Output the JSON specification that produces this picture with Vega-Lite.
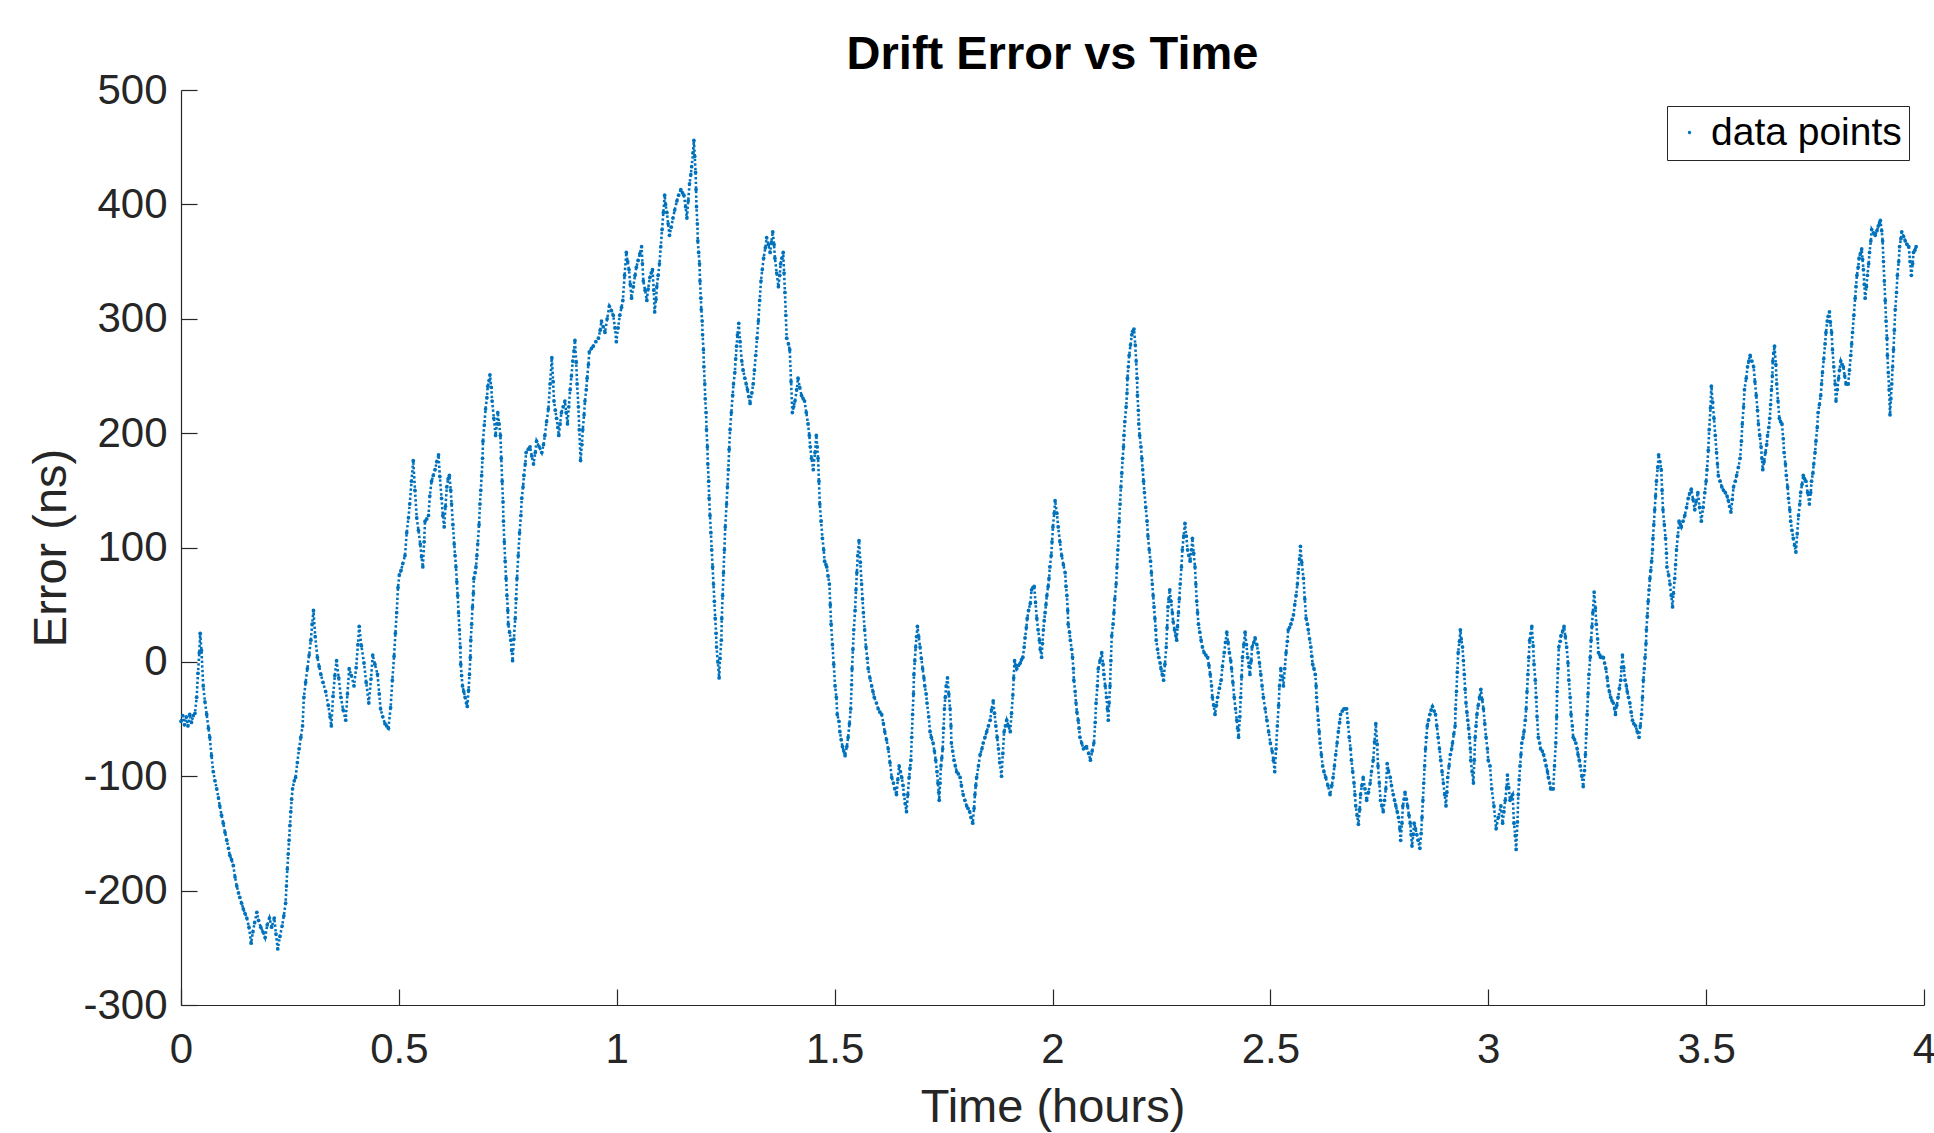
{
"$schema":"https://vega.github.io/schema/vega-lite/v6.json",
"width":1743,"height":915,
"autosize":{"type":"none"},
"padding":{"left":181,"top":90,"right":10,"bottom":128},
"background":"white",
"title":{"text":"Drift Error vs Time","font":"Liberation Sans","fontSize":47,"fontWeight":"bold","color":"black","anchor":"middle","frame":"group","baseline":"alphabetic","offset":-47},
"data":{"values":[
{"t":0,"e":-52},{"t":0.004,"e":-47},{"t":0.008,"e":-55},{"t":0.012,"e":-48},{"t":0.016,"e":-56},{"t":0.02,"e":-46},{"t":0.024,"e":-53},{"t":0.028,"e":-47},{"t":0.032,"e":-45},{"t":0.036,"e":-31},{"t":0.039,"e":-10},{"t":0.042,"e":8},{"t":0.044,"e":25},{"t":0.047,"e":10},{"t":0.051,"e":-21},{"t":0.055,"e":-35},{"t":0.059,"e":-46},{"t":0.063,"e":-58},{"t":0.066,"e":-66},{"t":0.07,"e":-82},{"t":0.074,"e":-96},{"t":0.078,"e":-104},{"t":0.082,"e":-111},{"t":0.086,"e":-119},{"t":0.089,"e":-126},{"t":0.093,"e":-134},{"t":0.097,"e":-141},{"t":0.101,"e":-149},{"t":0.105,"e":-156},{"t":0.109,"e":-163},{"t":0.112,"e":-169},{"t":0.116,"e":-173},{"t":0.12,"e":-178},{"t":0.124,"e":-188},{"t":0.128,"e":-196},{"t":0.132,"e":-202},{"t":0.135,"e":-206},{"t":0.139,"e":-211},{"t":0.143,"e":-216},{"t":0.147,"e":-220},{"t":0.151,"e":-224},{"t":0.156,"e":-232},{"t":0.161,"e":-246},{"t":0.165,"e":-236},{"t":0.169,"e":-228},{"t":0.174,"e":-219},{"t":0.178,"e":-226},{"t":0.183,"e":-232},{"t":0.188,"e":-236},{"t":0.193,"e":-241},{"t":0.198,"e":-230},{"t":0.203,"e":-224},{"t":0.208,"e":-232},{"t":0.214,"e":-224},{"t":0.218,"e":-238},{"t":0.222,"e":-251},{"t":0.227,"e":-240},{"t":0.232,"e":-231},{"t":0.236,"e":-222},{"t":0.24,"e":-211},{"t":0.242,"e":-196},{"t":0.244,"e":-181},{"t":0.246,"e":-168},{"t":0.248,"e":-156},{"t":0.25,"e":-143},{"t":0.252,"e":-131},{"t":0.254,"e":-120},{"t":0.256,"e":-111},{"t":0.26,"e":-104},{"t":0.263,"e":-101},{"t":0.267,"e":-88},{"t":0.271,"e":-76},{"t":0.275,"e":-66},{"t":0.279,"e":-56},{"t":0.282,"e":-31},{"t":0.286,"e":-18},{"t":0.29,"e":-6},{"t":0.294,"e":6},{"t":0.298,"e":19},{"t":0.301,"e":33},{"t":0.304,"e":45},{"t":0.308,"e":22},{"t":0.313,"e":4},{"t":0.317,"e":-4},{"t":0.321,"e":-11},{"t":0.326,"e":-18},{"t":0.332,"e":-26},{"t":0.338,"e":-38},{"t":0.342,"e":-48},{"t":0.345,"e":-56},{"t":0.349,"e":-30},{"t":0.353,"e":-12},{"t":0.357,"e":1},{"t":0.362,"e":-14},{"t":0.367,"e":-31},{"t":0.372,"e":-42},{"t":0.378,"e":-51},{"t":0.382,"e":-28},{"t":0.386,"e":-6},{"t":0.391,"e":-12},{"t":0.397,"e":-21},{"t":0.402,"e":-5},{"t":0.406,"e":15},{"t":0.409,"e":31},{"t":0.414,"e":14},{"t":0.42,"e":-1},{"t":0.425,"e":-18},{"t":0.431,"e":-36},{"t":0.436,"e":-15},{"t":0.44,"e":6},{"t":0.445,"e":-2},{"t":0.451,"e":-11},{"t":0.455,"e":-28},{"t":0.458,"e":-41},{"t":0.463,"e":-48},{"t":0.468,"e":-54},{"t":0.472,"e":-56},{"t":0.476,"e":-58},{"t":0.481,"e":-40},{"t":0.485,"e":-16},
{"t":0.489,"e":5},{"t":0.492,"e":25},{"t":0.495,"e":43},{"t":0.498,"e":65},{"t":0.501,"e":76},{"t":0.505,"e":80},{"t":0.509,"e":86},{"t":0.514,"e":93},{"t":0.518,"e":113},{"t":0.522,"e":126},{"t":0.525,"e":138},{"t":0.529,"e":158},{"t":0.533,"e":176},{"t":0.537,"e":150},{"t":0.541,"e":126},{"t":0.545,"e":115},{"t":0.549,"e":103},{"t":0.552,"e":92},{"t":0.555,"e":83},{"t":0.558,"e":105},{"t":0.56,"e":123},{"t":0.564,"e":125},{"t":0.568,"e":128},{"t":0.571,"e":145},{"t":0.575,"e":158},{"t":0.579,"e":163},{"t":0.583,"e":168},{"t":0.587,"e":175},{"t":0.591,"e":181},{"t":0.594,"e":162},{"t":0.598,"e":143},{"t":0.601,"e":128},{"t":0.604,"e":118},{"t":0.607,"e":136},{"t":0.61,"e":153},{"t":0.613,"e":160},{"t":0.616,"e":163},{"t":0.619,"e":150},{"t":0.621,"e":138},{"t":0.624,"e":120},{"t":0.627,"e":103},{"t":0.629,"e":93},{"t":0.631,"e":83},{"t":0.633,"e":70},{"t":0.635,"e":58},{"t":0.637,"e":43},{"t":0.639,"e":28},{"t":0.641,"e":13},{"t":0.642,"e":-2},{"t":0.644,"e":-12},{"t":0.646,"e":-21},{"t":0.649,"e":-26},{"t":0.652,"e":-31},{"t":0.655,"e":-36},{"t":0.657,"e":-39},{"t":0.66,"e":-25},{"t":0.662,"e":-11},{"t":0.664,"e":4},{"t":0.665,"e":19},{"t":0.667,"e":33},{"t":0.669,"e":48},{"t":0.671,"e":60},{"t":0.672,"e":73},{"t":0.675,"e":78},{"t":0.677,"e":83},{"t":0.679,"e":93},{"t":0.681,"e":103},{"t":0.684,"e":120},{"t":0.686,"e":138},{"t":0.688,"e":150},{"t":0.69,"e":163},{"t":0.692,"e":178},{"t":0.693,"e":193},{"t":0.696,"e":207},{"t":0.699,"e":221},{"t":0.702,"e":231},{"t":0.704,"e":241},{"t":0.707,"e":246},{"t":0.709,"e":251},{"t":0.712,"e":240},{"t":0.714,"e":228},{"t":0.718,"e":213},{"t":0.722,"e":198},{"t":0.725,"e":208},{"t":0.727,"e":218},{"t":0.73,"e":208},{"t":0.733,"e":198},{"t":0.735,"e":178},{"t":0.737,"e":158},{"t":0.739,"e":140},{"t":0.74,"e":123},{"t":0.742,"e":105},{"t":0.744,"e":88},{"t":0.746,"e":73},{"t":0.748,"e":58},{"t":0.75,"e":45},{"t":0.751,"e":33},{"t":0.754,"e":26},{"t":0.757,"e":19},{"t":0.759,"e":10},{"t":0.761,"e":1},{"t":0.764,"e":20},{"t":0.767,"e":38},{"t":0.769,"e":55},{"t":0.771,"e":73},{"t":0.774,"e":93},{"t":0.777,"e":113},{"t":0.78,"e":128},{"t":0.782,"e":143},{"t":0.785,"e":153},{"t":0.787,"e":163},{"t":0.79,"e":173},{"t":0.792,"e":183},{"t":0.797,"e":186},{"t":0.801,"e":188},{"t":0.805,"e":180},{"t":0.809,"e":173},{"t":0.813,"e":183},{"t":0.816,"e":193},{"t":0.822,"e":188},{"t":0.828,"e":183},{"t":0.832,"e":190},{"t":0.835,"e":198},{"t":0.839,"e":210},{"t":0.843,"e":221},{"t":0.847,"e":243},{"t":0.851,"e":266},{"t":0.854,"e":245},{"t":0.856,"e":228},{"t":0.859,"e":220},{"t":0.862,"e":213},{"t":0.865,"e":205},{"t":0.867,"e":198},{"t":0.87,"e":208},{"t":0.873,"e":218},{"t":0.877,"e":223},{"t":0.881,"e":228},{"t":0.884,"e":218},{"t":0.887,"e":208},{"t":0.89,"e":223},{"t":0.893,"e":238},{"t":0.896,"e":250},{"t":0.899,"e":263},{"t":0.902,"e":272},{"t":0.904,"e":281},{"t":0.907,"e":262},{"t":0.909,"e":243},{"t":0.912,"e":223},{"t":0.914,"e":203},{"t":0.917,"e":176},{"t":0.92,"e":190},{"t":0.922,"e":203},{"t":0.925,"e":216},{"t":0.927,"e":228},{"t":0.93,"e":238},{"t":0.932,"e":248},{"t":0.935,"e":260},{"t":0.937,"e":271},{"t":0.942,"e":274},{"t":0.946,"e":276},{"t":0.952,"e":280},{"t":0.958,"e":283},{"t":0.962,"e":290},{"t":0.965,"e":298},{"t":0.969,"e":293},{"t":0.973,"e":288},{"t":0.978,"e":300},{"t":0.983,"e":311},{"t":0.988,"e":307},{"t":0.992,"e":303},{"t":0.996,"e":292},{"t":0.999,"e":280},{"t":1.003,"e":292},{"t":1.007,"e":303},{"t":1.011,"e":310},{"t":1.014,"e":316},{"t":1.018,"e":338},{"t":1.022,"e":358},{"t":1.025,"e":350},{"t":1.028,"e":343},{"t":1.031,"e":330},{"t":1.034,"e":318},{"t":1.038,"e":328},{"t":1.042,"e":338},{"t":1.045,"e":345},{"t":1.049,"e":351},{"t":1.053,"e":357},{"t":1.057,"e":363},{"t":1.059,"e":348},{"t":1.061,"e":333},{"t":1.065,"e":325},{"t":1.069,"e":316},{"t":1.072,"e":326},{"t":1.076,"e":336},{"t":1.079,"e":340},{"t":1.082,"e":343},{"t":1.085,"e":325},{"t":1.087,"e":306},{"t":1.09,"e":317},{"t":1.092,"e":328},{"t":1.095,"e":338},{"t":1.098,"e":348},{"t":1.101,"e":363},{"t":1.104,"e":378},{"t":1.107,"e":393},{"t":1.11,"e":408},{"t":1.112,"e":400},{"t":1.115,"e":393},{"t":1.118,"e":383},{"t":1.121,"e":373},{"t":1.125,"e":380},{"t":1.129,"e":388},{"t":1.133,"e":395},{"t":1.138,"e":403},{"t":1.142,"e":408},{"t":1.147,"e":413},{"t":1.151,"e":410},{"t":1.154,"e":408},{"t":1.158,"e":398},{"t":1.161,"e":388},{"t":1.164,"e":403},{"t":1.167,"e":418},{"t":1.17,"e":426},{"t":1.172,"e":433},{"t":1.175,"e":445},{"t":1.177,"e":456},{"t":1.179,"e":442},{"t":1.181,"e":428},{"t":1.182,"e":413},{"t":1.183,"e":398},{"t":1.185,"e":383},{"t":1.186,"e":368},{"t":1.188,"e":358},{"t":1.19,"e":348},{"t":1.191,"e":333},{"t":1.193,"e":318},{"t":1.194,"e":308},{"t":1.196,"e":298},{"t":1.197,"e":286},{"t":1.199,"e":273},{"t":1.2,"e":258},{"t":1.202,"e":243},{"t":1.203,"e":230},{"t":1.205,"e":218},{"t":1.206,"e":203},{"t":1.208,"e":188},{"t":1.209,"e":173},{"t":1.211,"e":158},{"t":1.212,"e":143},{"t":1.214,"e":128},{"t":1.216,"e":113},{"t":1.218,"e":98},{"t":1.22,"e":83},{"t":1.222,"e":68},{"t":1.224,"e":53},{"t":1.226,"e":38},{"t":1.228,"e":25},{"t":1.229,"e":13},{"t":1.232,"e":0},{"t":1.235,"e":-14},{"t":1.237,"e":3},{"t":1.24,"e":19},{"t":1.241,"e":38},{"t":1.243,"e":58},{"t":1.245,"e":78},{"t":1.247,"e":98},{"t":1.249,"e":118},{"t":1.252,"e":138},{"t":1.254,"e":153},{"t":1.256,"e":168},{"t":1.258,"e":186},{"t":1.26,"e":203},{"t":1.263,"e":218},{"t":1.266,"e":233},{"t":1.268,"e":243},{"t":1.271,"e":253},{"t":1.273,"e":265},{"t":1.275,"e":276},{"t":1.277,"e":286},{"t":1.28,"e":296},{"t":1.283,"e":280},{"t":1.287,"e":263},{"t":1.29,"e":255},{"t":1.294,"e":248},{"t":1.297,"e":243},{"t":1.3,"e":238},{"t":1.303,"e":232},{"t":1.306,"e":226},{"t":1.31,"e":235},{"t":1.313,"e":243},{"t":1.316,"e":255},{"t":1.319,"e":268},{"t":1.322,"e":283},{"t":1.325,"e":298},{"t":1.328,"e":316},{"t":1.331,"e":333},{"t":1.334,"e":343},{"t":1.337,"e":353},{"t":1.341,"e":362},{"t":1.344,"e":371},{"t":1.348,"e":365},{"t":1.352,"e":358},{"t":1.355,"e":367},{"t":1.358,"e":376},{"t":1.361,"e":365},{"t":1.363,"e":353},{"t":1.367,"e":340},{"t":1.371,"e":328},{"t":1.374,"e":338},{"t":1.376,"e":348},{"t":1.379,"e":353},{"t":1.382,"e":358},{"t":1.384,"e":340},{"t":1.386,"e":323},{"t":1.388,"e":303},{"t":1.39,"e":283},{"t":1.394,"e":278},{"t":1.397,"e":273},{"t":1.4,"e":245},{"t":1.403,"e":218},{"t":1.406,"e":223},{"t":1.409,"e":228},{"t":1.413,"e":238},{"t":1.416,"e":248},{"t":1.42,"e":240},{"t":1.424,"e":233},{"t":1.428,"e":230},{"t":1.431,"e":228},{"t":1.435,"e":218},{"t":1.439,"e":208},{"t":1.442,"e":198},{"t":1.444,"e":188},{"t":1.447,"e":178},{"t":1.451,"e":168},{"t":1.455,"e":183},{"t":1.458,"e":198},{"t":1.46,"e":188},{"t":1.462,"e":178},{"t":1.464,"e":158},{"t":1.466,"e":138},{"t":1.469,"e":123},{"t":1.472,"e":108},{"t":1.475,"e":98},{"t":1.477,"e":88},{"t":1.48,"e":85},{"t":1.482,"e":83},{"t":1.485,"e":75},{"t":1.488,"e":68},{"t":1.49,"e":50},{"t":1.492,"e":33},{"t":1.495,"e":15},{"t":1.498,"e":-2},{"t":1.501,"e":-21},{"t":1.504,"e":-31},{"t":1.506,"e":-46},{"t":1.51,"e":-52},{"t":1.512,"e":-61},{"t":1.515,"e":-68},{"t":1.518,"e":-74},{"t":1.521,"e":-78},{"t":1.524,"e":-82},{"t":1.528,"e":-74},{"t":1.531,"e":-66},{"t":1.534,"e":-54},{"t":1.537,"e":-41},{"t":1.539,"e":-20},{"t":1.54,"e":-6},{"t":1.542,"e":11},{"t":1.544,"e":28},{"t":1.547,"e":45},{"t":1.549,"e":63},{"t":1.551,"e":78},{"t":1.553,"e":93},{"t":1.556,"e":106},{"t":1.559,"e":87},{"t":1.562,"e":68},{"t":1.564,"e":55},{"t":1.566,"e":43},{"t":1.569,"e":28},{"t":1.572,"e":13},{"t":1.575,"e":3},{"t":1.577,"e":-6},{"t":1.581,"e":-14},{"t":1.585,"e":-21},{"t":1.588,"e":-26},{"t":1.591,"e":-31},{"t":1.596,"e":-36},{"t":1.6,"e":-41},{"t":1.604,"e":-44},{"t":1.608,"e":-46},{"t":1.612,"e":-54},{"t":1.615,"e":-61},{"t":1.619,"e":-68},{"t":1.623,"e":-76},{"t":1.627,"e":-88},{"t":1.631,"e":-101},{"t":1.635,"e":-106},{"t":1.638,"e":-111},{"t":1.642,"e":-116},{"t":1.645,"e":-103},{"t":1.648,"e":-91},{"t":1.651,"e":-96},{"t":1.654,"e":-101},{"t":1.657,"e":-108},{"t":1.659,"e":-116},{"t":1.662,"e":-124},{"t":1.665,"e":-131},{"t":1.668,"e":-116},{"t":1.671,"e":-101},{"t":1.673,"e":-93},{"t":1.675,"e":-86},{"t":1.677,"e":-66},{"t":1.679,"e":-46},{"t":1.681,"e":-28},{"t":1.682,"e":-11},{"t":1.684,"e":1},{"t":1.686,"e":13},{"t":1.688,"e":22},{"t":1.69,"e":31},{"t":1.693,"e":22},{"t":1.696,"e":13},{"t":1.699,"e":3},{"t":1.702,"e":-6},{"t":1.705,"e":-14},{"t":1.707,"e":-21},{"t":1.71,"e":-28},{"t":1.712,"e":-36},{"t":1.716,"e":-48},{"t":1.719,"e":-61},{"t":1.722,"e":-66},{"t":1.726,"e":-71},{"t":1.729,"e":-78},{"t":1.732,"e":-86},{"t":1.735,"e":-96},{"t":1.737,"e":-106},{"t":1.739,"e":-114},{"t":1.74,"e":-121},{"t":1.742,"e":-106},{"t":1.744,"e":-91},{"t":1.746,"e":-84},{"t":1.748,"e":-76},{"t":1.75,"e":-58},{"t":1.752,"e":-41},{"t":1.754,"e":-31},{"t":1.756,"e":-21},{"t":1.759,"e":-14},{"t":1.762,"e":-28},{"t":1.765,"e":-41},{"t":1.767,"e":-56},{"t":1.768,"e":-71},{"t":1.771,"e":-78},{"t":1.774,"e":-86},{"t":1.777,"e":-91},{"t":1.78,"e":-96},{"t":1.784,"e":-98},{"t":1.788,"e":-101},{"t":1.791,"e":-108},{"t":1.795,"e":-116},{"t":1.799,"e":-121},{"t":1.803,"e":-126},{"t":1.806,"e":-128},{"t":1.81,"e":-131},{"t":1.813,"e":-136},{"t":1.817,"e":-141},{"t":1.82,"e":-128},{"t":1.822,"e":-116},{"t":1.824,"e":-108},{"t":1.826,"e":-101},{"t":1.83,"e":-91},{"t":1.834,"e":-81},{"t":1.838,"e":-76},{"t":1.841,"e":-71},{"t":1.845,"e":-66},{"t":1.849,"e":-61},{"t":1.853,"e":-56},{"t":1.857,"e":-51},{"t":1.86,"e":-42},{"t":1.864,"e":-34},{"t":1.867,"e":-45},{"t":1.87,"e":-56},{"t":1.873,"e":-66},{"t":1.876,"e":-76},{"t":1.879,"e":-88},{"t":1.883,"e":-100},{"t":1.886,"e":-80},{"t":1.889,"e":-61},{"t":1.892,"e":-56},{"t":1.895,"e":-51},{"t":1.899,"e":-56},{"t":1.903,"e":-61},{"t":1.906,"e":-45},{"t":1.909,"e":-29},{"t":1.911,"e":-14},{"t":1.913,"e":1},{"t":1.915,"e":-3},{"t":1.918,"e":-6},{"t":1.922,"e":-3},{"t":1.926,"e":-1},{"t":1.929,"e":2},{"t":1.932,"e":4},{"t":1.935,"e":13},{"t":1.937,"e":21},{"t":1.94,"e":30},{"t":1.942,"e":38},{"t":1.945,"e":45},{"t":1.949,"e":51},{"t":1.952,"e":63},{"t":1.955,"e":65},{"t":1.958,"e":66},{"t":1.961,"e":52},{"t":1.964,"e":38},{"t":1.967,"e":28},{"t":1.97,"e":19},{"t":1.972,"e":11},{"t":1.975,"e":4},{"t":1.977,"e":16},{"t":1.979,"e":28},{"t":1.981,"e":36},{"t":1.983,"e":43},{"t":1.985,"e":50},{"t":1.987,"e":58},{"t":1.99,"e":66},{"t":1.992,"e":73},{"t":1.994,"e":83},{"t":1.997,"e":93},{"t":1.999,"e":105},{"t":2.001,"e":118},{"t":2.004,"e":130},{"t":2.006,"e":141},{"t":2.01,"e":130},{"t":2.013,"e":118},{"t":2.017,"e":105},{"t":2.021,"e":93},{"t":2.025,"e":85},{"t":2.029,"e":78},{"t":2.031,"e":66},{"t":2.033,"e":58},{"t":2.035,"e":45},{"t":2.036,"e":33},{"t":2.039,"e":26},{"t":2.041,"e":19},{"t":2.044,"e":11},{"t":2.046,"e":4},{"t":2.048,"e":-6},{"t":2.049,"e":-16},{"t":2.052,"e":-26},{"t":2.054,"e":-36},{"t":2.056,"e":-44},{"t":2.059,"e":-51},{"t":2.061,"e":-58},{"t":2.063,"e":-66},{"t":2.067,"e":-71},{"t":2.071,"e":-76},{"t":2.075,"e":-75},{"t":2.078,"e":-74},{"t":2.083,"e":-80},{"t":2.087,"e":-86},{"t":2.091,"e":-78},{"t":2.095,"e":-71},{"t":2.098,"e":-53},{"t":2.1,"e":-36},{"t":2.103,"e":-21},{"t":2.105,"e":-6},{"t":2.109,"e":1},{"t":2.113,"e":8},{"t":2.116,"e":-2},{"t":2.118,"e":-11},{"t":2.121,"e":-21},{"t":2.124,"e":-31},{"t":2.126,"e":-41},{"t":2.128,"e":-51},{"t":2.13,"e":-36},{"t":2.132,"e":-21},{"t":2.134,"e":1},{"t":2.136,"e":23},{"t":2.139,"e":33},{"t":2.141,"e":43},{"t":2.143,"e":55},{"t":2.146,"e":68},{"t":2.148,"e":83},{"t":2.15,"e":98},{"t":2.152,"e":110},{"t":2.153,"e":123},{"t":2.155,"e":138},{"t":2.157,"e":153},{"t":2.159,"e":165},{"t":2.161,"e":178},{"t":2.163,"e":188},{"t":2.164,"e":198},{"t":2.166,"e":210},{"t":2.169,"e":223},{"t":2.171,"e":235},{"t":2.172,"e":248},{"t":2.174,"e":258},{"t":2.176,"e":268},{"t":2.179,"e":277},{"t":2.182,"e":286},{"t":2.184,"e":289},{"t":2.187,"e":291},{"t":2.19,"e":277},{"t":2.192,"e":263},{"t":2.194,"e":248},{"t":2.195,"e":233},{"t":2.197,"e":220},{"t":2.198,"e":208},{"t":2.2,"e":198},{"t":2.203,"e":188},{"t":2.205,"e":178},{"t":2.207,"e":168},{"t":2.209,"e":158},{"t":2.211,"e":148},{"t":2.214,"e":135},{"t":2.217,"e":123},{"t":2.219,"e":110},{"t":2.222,"e":98},{"t":2.225,"e":88},{"t":2.227,"e":78},{"t":2.229,"e":68},{"t":2.231,"e":58},{"t":2.233,"e":48},{"t":2.235,"e":38},{"t":2.237,"e":28},{"t":2.238,"e":19},{"t":2.241,"e":11},{"t":2.244,"e":4},{"t":2.247,"e":-1},{"t":2.249,"e":-6},{"t":2.252,"e":-11},{"t":2.255,"e":-16},{"t":2.258,"e":-2},{"t":2.261,"e":13},{"t":2.263,"e":30},{"t":2.265,"e":48},{"t":2.267,"e":55},{"t":2.269,"e":63},{"t":2.272,"e":53},{"t":2.275,"e":43},{"t":2.277,"e":35},{"t":2.28,"e":28},{"t":2.283,"e":23},{"t":2.285,"e":19},{"t":2.287,"e":31},{"t":2.289,"e":43},{"t":2.291,"e":55},{"t":2.293,"e":68},{"t":2.296,"e":83},{"t":2.298,"e":98},{"t":2.301,"e":110},{"t":2.304,"e":121},{"t":2.307,"e":110},{"t":2.31,"e":98},{"t":2.313,"e":93},{"t":2.316,"e":88},{"t":2.319,"e":98},{"t":2.321,"e":108},{"t":2.324,"e":95},{"t":2.327,"e":83},{"t":2.329,"e":68},{"t":2.331,"e":53},{"t":2.333,"e":43},{"t":2.335,"e":33},{"t":2.338,"e":26},{"t":2.341,"e":19},{"t":2.344,"e":13},{"t":2.348,"e":8},{"t":2.352,"e":6},{"t":2.356,"e":4},{"t":2.359,"e":-3},{"t":2.362,"e":-11},{"t":2.365,"e":-21},{"t":2.367,"e":-31},{"t":2.37,"e":-38},{"t":2.373,"e":-46},{"t":2.376,"e":-38},{"t":2.379,"e":-31},{"t":2.383,"e":-23},{"t":2.387,"e":-16},{"t":2.39,"e":-4},{"t":2.394,"e":8},{"t":2.397,"e":17},{"t":2.4,"e":26},{"t":2.403,"e":17},{"t":2.406,"e":8},{"t":2.409,"e":1},{"t":2.411,"e":-6},{"t":2.414,"e":-18},{"t":2.417,"e":-31},{"t":2.42,"e":-41},{"t":2.423,"e":-51},{"t":2.425,"e":-58},{"t":2.427,"e":-66},{"t":2.43,"e":-48},{"t":2.432,"e":-31},{"t":2.434,"e":-13},{"t":2.436,"e":4},{"t":2.439,"e":15},{"t":2.442,"e":26},{"t":2.445,"e":15},{"t":2.448,"e":4},{"t":2.451,"e":-4},{"t":2.453,"e":-11},{"t":2.456,"e":1},{"t":2.458,"e":13},{"t":2.462,"e":17},{"t":2.465,"e":21},{"t":2.469,"e":15},{"t":2.472,"e":8},{"t":2.475,"e":-1},{"t":2.478,"e":-11},{"t":2.481,"e":-21},{"t":2.484,"e":-31},{"t":2.488,"e":-41},{"t":2.492,"e":-51},{"t":2.496,"e":-61},{"t":2.5,"e":-71},{"t":2.504,"e":-78},{"t":2.507,"e":-86},{"t":2.51,"e":-96},{"t":2.513,"e":-76},{"t":2.516,"e":-56},{"t":2.519,"e":-38},{"t":2.521,"e":-21},{"t":2.524,"e":-6},{"t":2.527,"e":-13},{"t":2.53,"e":-21},{"t":2.533,"e":-6},{"t":2.536,"e":8},{"t":2.539,"e":18},{"t":2.541,"e":28},{"t":2.544,"e":30},{"t":2.547,"e":33},{"t":2.55,"e":37},{"t":2.553,"e":41},{"t":2.556,"e":50},{"t":2.559,"e":58},{"t":2.562,"e":68},{"t":2.564,"e":78},{"t":2.567,"e":90},{"t":2.569,"e":101},{"t":2.572,"e":87},{"t":2.576,"e":73},{"t":2.579,"e":55},{"t":2.582,"e":38},{"t":2.585,"e":33},{"t":2.587,"e":28},{"t":2.59,"e":20},{"t":2.593,"e":13},{"t":2.595,"e":5},{"t":2.597,"e":-2},{"t":2.6,"e":-6},{"t":2.603,"e":-11},{"t":2.605,"e":-21},{"t":2.606,"e":-31},{"t":2.608,"e":-41},{"t":2.61,"e":-51},{"t":2.612,"e":-61},{"t":2.614,"e":-71},{"t":2.617,"e":-81},{"t":2.62,"e":-91},{"t":2.623,"e":-96},{"t":2.627,"e":-101},{"t":2.632,"e":-108},{"t":2.637,"e":-116},{"t":2.641,"e":-108},{"t":2.644,"e":-101},{"t":2.647,"e":-91},{"t":2.65,"e":-81},{"t":2.653,"e":-71},{"t":2.656,"e":-61},{"t":2.659,"e":-53},{"t":2.661,"e":-46},{"t":2.665,"e":-43},{"t":2.669,"e":-41},{"t":2.672,"e":-41},{"t":2.675,"e":-41},{"t":2.678,"e":-53},{"t":2.681,"e":-66},{"t":2.684,"e":-76},{"t":2.686,"e":-86},{"t":2.689,"e":-96},{"t":2.692,"e":-106},{"t":2.694,"e":-116},{"t":2.696,"e":-126},{"t":2.699,"e":-134},{"t":2.702,"e":-142},{"t":2.705,"e":-129},{"t":2.707,"e":-116},{"t":2.71,"e":-108},{"t":2.713,"e":-101},{"t":2.717,"e":-111},{"t":2.721,"e":-121},{"t":2.725,"e":-114},{"t":2.729,"e":-106},{"t":2.732,"e":-96},{"t":2.736,"e":-86},{"t":2.739,"e":-70},{"t":2.742,"e":-54},{"t":2.745,"e":-72},{"t":2.747,"e":-91},{"t":2.75,"e":-106},{"t":2.753,"e":-121},{"t":2.756,"e":-126},{"t":2.759,"e":-131},{"t":2.762,"e":-121},{"t":2.765,"e":-111},{"t":2.768,"e":-89},{"t":2.771,"e":-95},{"t":2.775,"e":-101},{"t":2.778,"e":-108},{"t":2.782,"e":-116},{"t":2.785,"e":-121},{"t":2.788,"e":-126},{"t":2.791,"e":-131},{"t":2.794,"e":-136},{"t":2.797,"e":-146},{"t":2.799,"e":-156},{"t":2.802,"e":-141},{"t":2.804,"e":-126},{"t":2.807,"e":-120},{"t":2.809,"e":-114},{"t":2.812,"e":-120},{"t":2.815,"e":-126},{"t":2.818,"e":-134},{"t":2.821,"e":-141},{"t":2.823,"e":-151},{"t":2.825,"e":-161},{"t":2.828,"e":-151},{"t":2.83,"e":-141},{"t":2.833,"e":-146},{"t":2.836,"e":-151},{"t":2.839,"e":-156},{"t":2.843,"e":-163},{"t":2.846,"e":-150},{"t":2.848,"e":-136},{"t":2.85,"e":-121},{"t":2.852,"e":-106},{"t":2.854,"e":-91},{"t":2.856,"e":-76},{"t":2.858,"e":-66},{"t":2.86,"e":-56},{"t":2.863,"e":-51},{"t":2.866,"e":-46},{"t":2.869,"e":-42},{"t":2.872,"e":-39},{"t":2.876,"e":-43},{"t":2.879,"e":-46},{"t":2.882,"e":-56},{"t":2.885,"e":-66},{"t":2.888,"e":-76},{"t":2.891,"e":-86},{"t":2.894,"e":-96},{"t":2.897,"e":-106},{"t":2.9,"e":-116},{"t":2.903,"e":-126},{"t":2.905,"e":-114},{"t":2.907,"e":-101},{"t":2.91,"e":-91},{"t":2.913,"e":-81},{"t":2.916,"e":-76},{"t":2.918,"e":-71},{"t":2.921,"e":-63},{"t":2.924,"e":-56},{"t":2.925,"e":-41},{"t":2.927,"e":-26},{"t":2.929,"e":-9},{"t":2.931,"e":8},{"t":2.934,"e":18},{"t":2.936,"e":28},{"t":2.938,"e":20},{"t":2.941,"e":13},{"t":2.943,"e":1},{"t":2.945,"e":-11},{"t":2.947,"e":-24},{"t":2.949,"e":-36},{"t":2.951,"e":-44},{"t":2.953,"e":-51},{"t":2.955,"e":-58},{"t":2.957,"e":-66},{"t":2.959,"e":-76},{"t":2.96,"e":-86},{"t":2.963,"e":-96},{"t":2.966,"e":-106},{"t":2.968,"e":-86},{"t":2.97,"e":-66},{"t":2.972,"e":-56},{"t":2.974,"e":-46},{"t":2.977,"e":-38},{"t":2.98,"e":-31},{"t":2.983,"e":-24},{"t":2.986,"e":-33},{"t":2.989,"e":-41},{"t":2.992,"e":-54},{"t":2.995,"e":-66},{"t":2.998,"e":-76},{"t":3.0,"e":-86},{"t":3.004,"e":-91},{"t":3.008,"e":-111},{"t":3.013,"e":-126},{"t":3.018,"e":-146},{"t":3.023,"e":-136},{"t":3.029,"e":-126},{"t":3.033,"e":-141},{"t":3.036,"e":-131},{"t":3.039,"e":-121},{"t":3.042,"e":-110},{"t":3.044,"e":-99},{"t":3.047,"e":-110},{"t":3.05,"e":-121},{"t":3.053,"e":-118},{"t":3.056,"e":-116},{"t":3.059,"e":-141},{"t":3.062,"e":-152},{"t":3.064,"e":-164},{"t":3.067,"e":-140},{"t":3.069,"e":-116},{"t":3.071,"e":-103},{"t":3.073,"e":-91},{"t":3.075,"e":-81},{"t":3.077,"e":-71},{"t":3.08,"e":-66},{"t":3.082,"e":-61},{"t":3.085,"e":-51},{"t":3.087,"e":-41},{"t":3.089,"e":-26},{"t":3.091,"e":-11},{"t":3.093,"e":4},{"t":3.095,"e":19},{"t":3.098,"e":25},{"t":3.1,"e":31},{"t":3.103,"e":14},{"t":3.105,"e":-2},{"t":3.108,"e":-16},{"t":3.11,"e":-31},{"t":3.112,"e":-48},{"t":3.115,"e":-66},{"t":3.118,"e":-71},{"t":3.12,"e":-76},{"t":3.124,"e":-78},{"t":3.127,"e":-81},{"t":3.13,"e":-86},{"t":3.133,"e":-91},{"t":3.136,"e":-96},{"t":3.138,"e":-101},{"t":3.141,"e":-106},{"t":3.143,"e":-111},{"t":3.146,"e":-111},{"t":3.149,"e":-111},{"t":3.152,"e":-91},{"t":3.155,"e":-71},{"t":3.157,"e":-48},{"t":3.158,"e":-26},{"t":3.16,"e":-6},{"t":3.162,"e":13},{"t":3.165,"e":18},{"t":3.167,"e":23},{"t":3.171,"e":27},{"t":3.174,"e":31},{"t":3.177,"e":22},{"t":3.18,"e":13},{"t":3.183,"e":-1},{"t":3.185,"e":-16},{"t":3.188,"e":-31},{"t":3.19,"e":-46},{"t":3.193,"e":-56},{"t":3.195,"e":-66},{"t":3.198,"e":-68},{"t":3.201,"e":-71},{"t":3.204,"e":-76},{"t":3.206,"e":-81},{"t":3.209,"e":-86},{"t":3.211,"e":-91},{"t":3.215,"e":-100},{"t":3.218,"e":-109},{"t":3.221,"e":-95},{"t":3.223,"e":-81},{"t":3.225,"e":-63},{"t":3.227,"e":-46},{"t":3.229,"e":-28},{"t":3.231,"e":-11},{"t":3.234,"e":4},{"t":3.236,"e":19},{"t":3.238,"e":31},{"t":3.24,"e":43},{"t":3.243,"e":61},{"t":3.246,"e":47},{"t":3.248,"e":33},{"t":3.251,"e":20},{"t":3.253,"e":8},{"t":3.256,"e":6},{"t":3.258,"e":4},{"t":3.261,"e":4},{"t":3.264,"e":4},{"t":3.267,"e":-1},{"t":3.27,"e":-6},{"t":3.273,"e":-14},{"t":3.275,"e":-21},{"t":3.278,"e":-26},{"t":3.281,"e":-31},{"t":3.284,"e":-34},{"t":3.287,"e":-36},{"t":3.29,"e":-41},{"t":3.292,"e":-46},{"t":3.295,"e":-38},{"t":3.298,"e":-31},{"t":3.301,"e":-23},{"t":3.304,"e":-16},{"t":3.306,"e":-5},{"t":3.308,"e":6},{"t":3.311,"e":-5},{"t":3.314,"e":-16},{"t":3.317,"e":-21},{"t":3.319,"e":-26},{"t":3.322,"e":-31},{"t":3.325,"e":-36},{"t":3.328,"e":-44},{"t":3.331,"e":-51},{"t":3.334,"e":-54},{"t":3.338,"e":-56},{"t":3.342,"e":-61},{"t":3.346,"e":-66},{"t":3.349,"e":-56},{"t":3.352,"e":-46},{"t":3.354,"e":-31},{"t":3.356,"e":-16},{"t":3.358,"e":-6},{"t":3.36,"e":4},{"t":3.362,"e":16},{"t":3.363,"e":28},{"t":3.365,"e":40},{"t":3.367,"e":53},{"t":3.369,"e":63},{"t":3.371,"e":73},{"t":3.373,"e":80},{"t":3.375,"e":88},{"t":3.377,"e":98},{"t":3.378,"e":108},{"t":3.38,"e":120},{"t":3.382,"e":133},{"t":3.384,"e":145},{"t":3.386,"e":158},{"t":3.389,"e":170},{"t":3.391,"e":181},{"t":3.394,"e":175},{"t":3.397,"e":168},{"t":3.399,"e":150},{"t":3.401,"e":133},{"t":3.404,"e":120},{"t":3.407,"e":108},{"t":3.409,"e":95},{"t":3.41,"e":83},{"t":3.414,"e":76},{"t":3.417,"e":68},{"t":3.42,"e":58},{"t":3.423,"e":48},{"t":3.425,"e":60},{"t":3.428,"e":73},{"t":3.43,"e":85},{"t":3.432,"e":98},{"t":3.435,"e":110},{"t":3.438,"e":123},{"t":3.441,"e":120},{"t":3.443,"e":118},{"t":3.447,"e":123},{"t":3.451,"e":128},{"t":3.455,"e":135},{"t":3.459,"e":143},{"t":3.462,"e":147},{"t":3.466,"e":151},{"t":3.47,"e":142},{"t":3.474,"e":133},{"t":3.477,"e":140},{"t":3.481,"e":148},{"t":3.485,"e":135},{"t":3.489,"e":123},{"t":3.493,"e":135},{"t":3.497,"e":148},{"t":3.5,"e":158},{"t":3.502,"e":168},{"t":3.505,"e":185},{"t":3.507,"e":203},{"t":3.51,"e":222},{"t":3.512,"e":241},{"t":3.515,"e":227},{"t":3.518,"e":213},{"t":3.521,"e":198},{"t":3.524,"e":183},{"t":3.526,"e":173},{"t":3.528,"e":163},{"t":3.532,"e":158},{"t":3.536,"e":153},{"t":3.54,"e":150},{"t":3.544,"e":148},{"t":3.548,"e":145},{"t":3.551,"e":141},{"t":3.554,"e":136},{"t":3.557,"e":131},{"t":3.56,"e":142},{"t":3.563,"e":153},{"t":3.567,"e":158},{"t":3.57,"e":163},{"t":3.574,"e":170},{"t":3.578,"e":178},{"t":3.581,"e":193},{"t":3.583,"e":208},{"t":3.586,"e":223},{"t":3.588,"e":238},{"t":3.592,"e":248},{"t":3.595,"e":258},{"t":3.598,"e":263},{"t":3.601,"e":268},{"t":3.605,"e":263},{"t":3.609,"e":258},{"t":3.612,"e":245},{"t":3.615,"e":233},{"t":3.618,"e":220},{"t":3.62,"e":208},{"t":3.623,"e":198},{"t":3.626,"e":188},{"t":3.628,"e":178},{"t":3.63,"e":168},{"t":3.633,"e":175},{"t":3.636,"e":183},{"t":3.639,"e":190},{"t":3.641,"e":198},{"t":3.644,"e":205},{"t":3.646,"e":213},{"t":3.648,"e":225},{"t":3.65,"e":238},{"t":3.652,"e":250},{"t":3.653,"e":263},{"t":3.655,"e":270},{"t":3.657,"e":276},{"t":3.66,"e":260},{"t":3.662,"e":243},{"t":3.665,"e":228},{"t":3.668,"e":213},{"t":3.671,"e":210},{"t":3.674,"e":208},{"t":3.677,"e":195},{"t":3.679,"e":183},{"t":3.682,"e":173},{"t":3.684,"e":163},{"t":3.687,"e":153},{"t":3.689,"e":143},{"t":3.692,"e":133},{"t":3.694,"e":123},{"t":3.697,"e":115},{"t":3.7,"e":108},{"t":3.703,"e":102},{"t":3.706,"e":96},{"t":3.709,"e":112},{"t":3.712,"e":128},{"t":3.715,"e":138},{"t":3.717,"e":148},{"t":3.72,"e":155},{"t":3.723,"e":163},{"t":3.726,"e":160},{"t":3.729,"e":158},{"t":3.733,"e":148},{"t":3.737,"e":138},{"t":3.74,"e":148},{"t":3.742,"e":158},{"t":3.745,"e":165},{"t":3.747,"e":173},{"t":3.75,"e":183},{"t":3.752,"e":193},{"t":3.755,"e":205},{"t":3.757,"e":218},{"t":3.76,"e":225},{"t":3.763,"e":233},{"t":3.765,"e":243},{"t":3.767,"e":253},{"t":3.77,"e":265},{"t":3.773,"e":278},{"t":3.775,"e":288},{"t":3.778,"e":298},{"t":3.78,"e":302},{"t":3.783,"e":306},{"t":3.785,"e":297},{"t":3.788,"e":288},{"t":3.79,"e":273},{"t":3.793,"e":258},{"t":3.796,"e":243},{"t":3.798,"e":228},{"t":3.801,"e":238},{"t":3.804,"e":248},{"t":3.806,"e":255},{"t":3.809,"e":263},{"t":3.812,"e":260},{"t":3.815,"e":258},{"t":3.818,"e":250},{"t":3.821,"e":243},{"t":3.824,"e":243},{"t":3.826,"e":243},{"t":3.829,"e":255},{"t":3.832,"e":268},{"t":3.834,"e":278},{"t":3.836,"e":288},{"t":3.839,"e":303},{"t":3.842,"e":318},{"t":3.844,"e":328},{"t":3.846,"e":338},{"t":3.849,"e":345},{"t":3.851,"e":353},{"t":3.854,"e":357},{"t":3.857,"e":361},{"t":3.859,"e":352},{"t":3.861,"e":343},{"t":3.863,"e":330},{"t":3.865,"e":318},{"t":3.868,"e":328},{"t":3.87,"e":338},{"t":3.873,"e":348},{"t":3.875,"e":358},{"t":3.878,"e":368},{"t":3.88,"e":378},{"t":3.884,"e":375},{"t":3.888,"e":373},{"t":3.892,"e":377},{"t":3.895,"e":381},{"t":3.898,"e":384},{"t":3.9,"e":386},{"t":3.903,"e":377},{"t":3.905,"e":368},{"t":3.907,"e":350},{"t":3.909,"e":333},{"t":3.911,"e":316},{"t":3.913,"e":298},{"t":3.915,"e":283},{"t":3.916,"e":268},{"t":3.918,"e":253},{"t":3.92,"e":238},{"t":3.922,"e":216},{"t":3.924,"e":230},{"t":3.926,"e":243},{"t":3.928,"e":258},{"t":3.93,"e":273},{"t":3.932,"e":290},{"t":3.934,"e":308},{"t":3.937,"e":323},{"t":3.939,"e":338},{"t":3.942,"e":350},{"t":3.944,"e":363},{"t":3.947,"e":370},{"t":3.949,"e":376},{"t":3.953,"e":372},{"t":3.957,"e":368},{"t":3.961,"e":365},{"t":3.965,"e":363},{"t":3.968,"e":350},{"t":3.971,"e":338},{"t":3.974,"e":348},{"t":3.976,"e":358},{"t":3.979,"e":360},{"t":3.982,"e":363}
]},
"layer":[
{"mark":{"type":"line","color":"#0072bd","strokeWidth":2.6,"strokeDash":[2.4,2.2],"interpolate":"linear"},
 "encoding":{"x":{"field":"t","type":"quantitative"},"y":{"field":"e","type":"quantitative"}}},
{"mark":{"type":"circle","size":14,"opacity":1},
 "encoding":{
 "x":{"field":"t","type":"quantitative","title":"Time (hours)","scale":{"domain":[0,4],"nice":false,"zero":false},
  "axis":{"values":[0,0.5,1,1.5,2,2.5,3,3.5,4],"format":"~g","labelPadding":40,"titlePadding":14}},
 "y":{"field":"e","type":"quantitative","title":"Error (ns)","scale":{"domain":[-300,500],"nice":false,"zero":false},
  "axis":{"values":[-300,-200,-100,0,100,200,300,400,500],"labelExpr":"'' + datum.value","labelPadding":30,"titlePadding":7}},
 "color":{"datum":"data points","type":"nominal","scale":{"range":["#0072bd"]},
  "legend":{"title":null,"orient":"none","legendX":1486,"legendY":16,"strokeColor":"#262626","fillColor":"white","padding":7,"labelFont":"Liberation Sans","labelFontSize":39,"labelColor":"black","labelLimit":400,"symbolType":"circle","symbolSize":12,"symbolOffset":-4,"labelOffset":2,"symbolStrokeWidth":0}}
 }}
],
"config":{
"view":{"stroke":null},
"axis":{"domainColor":"#262626","tickColor":"#262626","labelColor":"#262626","titleColor":"#262626","labelFont":"Liberation Sans","titleFont":"Liberation Sans","labelFontSize":42,"titleFontSize":47,"titleFontWeight":"normal","grid":false,"tickSize":-16,"domainWidth":1.2,"tickWidth":1.2,"labelFlush":false,"labelOverlap":false}
}
}
